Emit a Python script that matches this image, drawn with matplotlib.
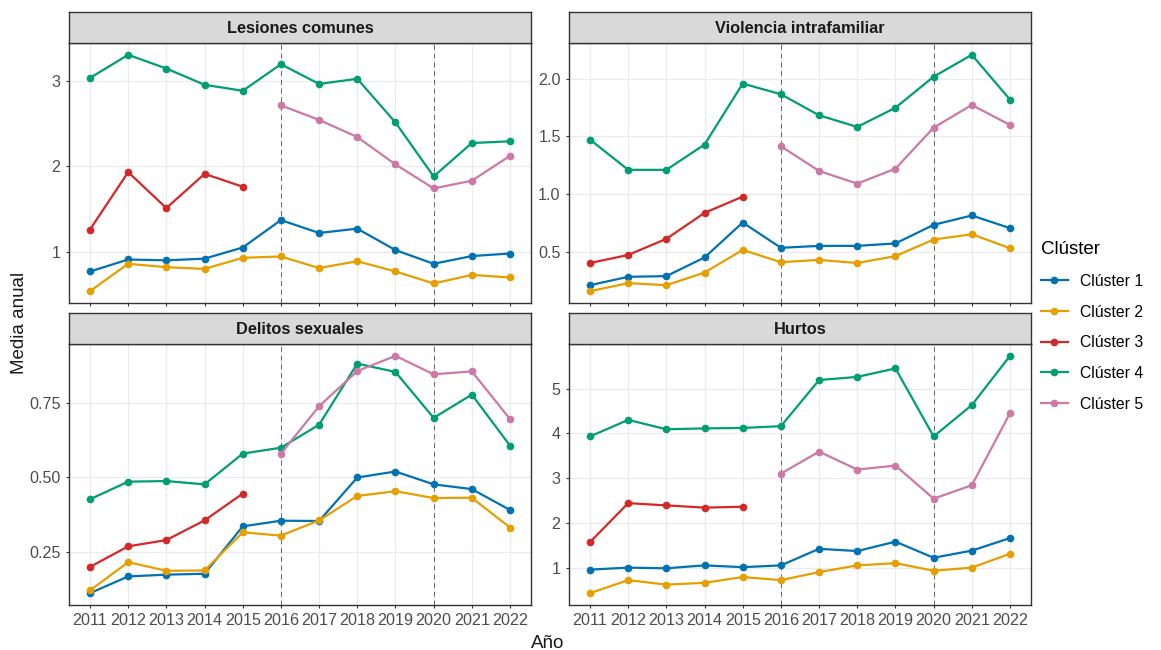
import numpy as np
import matplotlib
matplotlib.use("Agg")
import matplotlib.pyplot as plt
from matplotlib.ticker import MultipleLocator, FormatStrFormatter

plt.rcParams['font.family'] = ['Liberation Sans', 'DejaVu Sans']

# Data
years = list(range(2011, 2023))
clusters = ["Clúster 1", "Clúster 2", "Clúster 3", "Clúster 4", "Clúster 5"]
colors = ["#0072B2", "#E69F00", "#D62728", "#009E73", "#CC79A7"]
nan = np.nan

lesiones = [
    [0.77, 0.91, 0.90, 0.92, 1.05, 1.37, 1.22, 1.27, 1.02, 0.86, 0.95, 0.98],
    [0.54, 0.86, 0.82, 0.80, 0.93, 0.945, 0.81, 0.89, 0.77, 0.63, 0.73, 0.70],
    [1.26, 1.93, 1.51, 1.91, 1.76, nan, nan, nan, nan, nan, nan, nan],
    [3.03, 3.30, 3.14, 2.95, 2.88, 3.19, 2.96, 3.02, 2.51, 1.88, 2.27, 2.29],
    [nan, nan, nan, nan, nan, 2.71, 2.54, 2.34, 2.02, 1.74, 1.83, 2.12],
]
violencia = [
    [0.207, 0.28, 0.286, 0.448, 0.752, 0.532, 0.549, 0.549, 0.57, 0.732, 0.813, 0.703],
    [0.155, 0.225, 0.207, 0.317, 0.514, 0.407, 0.427, 0.40, 0.46, 0.604, 0.65, 0.529],
    [0.40, 0.47, 0.61, 0.836, 0.977, nan, nan, nan, nan, nan, nan, nan],
    [1.473, 1.21, 1.21, 1.43, 1.96, 1.867, 1.684, 1.583, 1.75, 2.02, 2.21, 1.82],
    [nan, nan, nan, nan, nan, 1.415, 1.20, 1.09, 1.22, 1.577, 1.774, 1.60],
]
sexuales = [
    [0.112, 0.168, 0.174, 0.177, 0.336, 0.355, 0.354, 0.50, 0.520, 0.477, 0.461, 0.391],
    [0.121, 0.216, 0.187, 0.188, 0.316, 0.305, 0.356, 0.438, 0.454, 0.431, 0.432, 0.332],
    [0.200, 0.269, 0.290, 0.356, 0.446, nan, nan, nan, nan, nan, nan, nan],
    [0.427, 0.486, 0.488, 0.477, 0.580, 0.600, 0.677, 0.882, 0.854, 0.700, 0.778, 0.607],
    [nan, nan, nan, nan, nan, 0.580, 0.739, 0.857, 0.908, 0.846, 0.856, 0.696],
]
hurtos = [
    [0.955, 1.00, 0.985, 1.05, 1.01, 1.05, 1.42, 1.37, 1.58, 1.22, 1.38, 1.66],
    [0.43, 0.72, 0.62, 0.66, 0.79, 0.72, 0.90, 1.05, 1.10, 0.93, 1.00, 1.31],
    [1.57, 2.44, 2.39, 2.34, 2.36, nan, nan, nan, nan, nan, nan, nan],
    [3.93, 4.30, 4.09, 4.11, 4.12, 4.16, 5.19, 5.26, 5.45, 3.93, 4.63, 5.73],
    [nan, nan, nan, nan, nan, 3.10, 3.59, 3.19, 3.28, 2.54, 2.84, 4.45],
]
titles = ["Lesiones comunes", "Violencia intrafamiliar", "Delitos sexuales", "Hurtos"]
panels = [lesiones, violencia, sexuales, hurtos]
ysteps = [1, 0.5, 0.25, 1]
yfmts = ["%d", "%.1f", "%.2f", "%d"]
vline_years = [2016, 2020]

W, H = 1161, 650
fig = plt.figure(figsize=(W / 100, H / 100), dpi=100)


def rect(x0, y0, x1, y1):
    return [x0 / W, 1 - y1 / H, (x1 - x0) / W, (y1 - y0) / H]


# pixel boxes: (x0, x1, strip_top, plot_top, plot_bottom)
boxes = [
    (69, 531, 12, 43, 303),
    (569, 1031, 12, 43, 303),
    (69, 531, 313, 344, 605),
    (569, 1031, 313, 344, 605),
]

border = "#333333"
for i, (x0, x1, st, pt, pb) in enumerate(boxes):
    ax = fig.add_axes(rect(x0, pt, x1, pb))
    sax = fig.add_axes(rect(x0, st, x1, pt))
    sax.set_facecolor("#D9D9D9")
    sax.set_xticks([])
    sax.set_yticks([])
    for s in sax.spines.values():
        s.set_color(border)
        s.set_linewidth(1.0)
    sax.text(0.5, 0.47, titles[i], ha="center", va="center",
             fontsize=11.8, fontweight="bold", color="#1A1A1A", transform=sax.transAxes)

    for k, vals in enumerate(panels[i]):
        ax.plot(years, vals, color=colors[k], lw=1.6, marker="o", ms=4.5,
                label=clusters[k], zorder=3)
    for v in vline_years:
        ax.axvline(v, color="#666666", lw=0.7, ls=(0, (5, 4)), zorder=2)

    ax.set_xticks(years)
    ax.yaxis.set_major_locator(MultipleLocator(ysteps[i]))
    ax.yaxis.set_major_formatter(FormatStrFormatter(yfmts[i]))
    ax.margins(x=0.05, y=0.05)
    ax.grid(True, color="#EBEBEB", lw=0.9, zorder=0)
    ax.set_axisbelow(True)
    for s in ax.spines.values():
        s.set_color(border)
        s.set_linewidth(1.0)
    ax.tick_params(length=2.5, width=0.8, color=border, labelsize=11.6,
                   labelcolor="#4D4D4D", pad=3.5)
    if i < 2:
        ax.tick_params(axis="x", labelbottom=False)
    if i == 0:
        handles, labels = ax.get_legend_handles_labels()

fig.text(548 / W, 1 - 643 / H, "Año", ha="center", va="center", fontsize=13.5, color="#1A1A1A")
fig.text(20 / W, 1 - 323 / H, "Media anual", ha="center", va="center", rotation=90,
         fontsize=13.5, color="#1A1A1A")

leg = fig.legend(handles, labels, title="Clúster", loc="upper left",
                 bbox_to_anchor=(1027 / W, 1 - 227 / H), frameon=False,
                 fontsize=11.3, title_fontsize=13.5, handlelength=1.7,
                 labelspacing=1.0, handletextpad=0.75, alignment="left")

fig.savefig("out.png", dpi=100)
